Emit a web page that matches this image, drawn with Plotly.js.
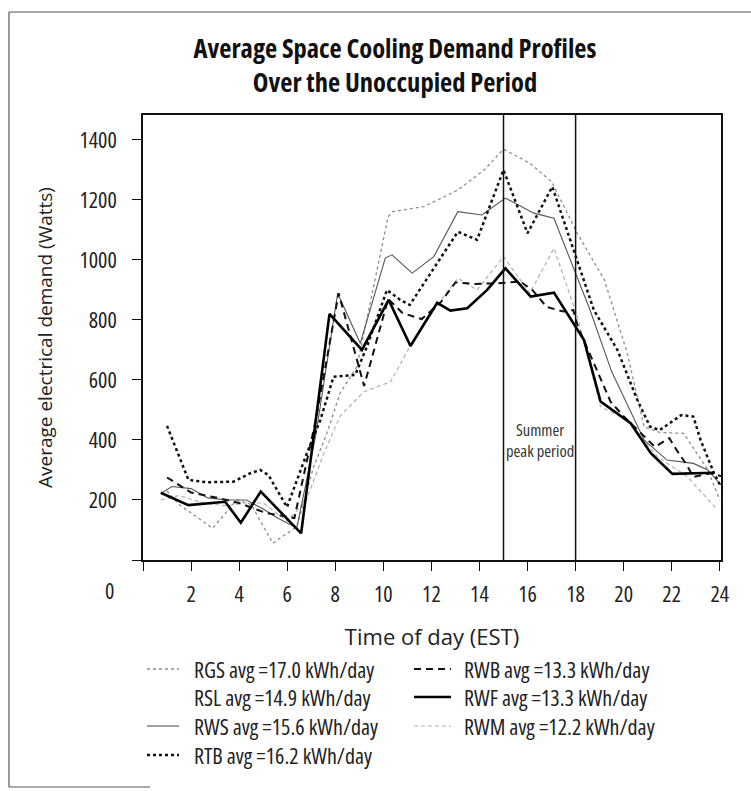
<!DOCTYPE html>
<html>
<head>
<meta charset="utf-8">
<script src="https://cdn.plot.ly/plotly-3.0.1.min.js"></script>
<style>
  html, body { margin: 0; padding: 0; background: #fff; }
  #chart { width: 751px; height: 791px; }
</style>
</head>
<body>
<div id="chart"></div>
<script>
// ---------- data ----------
const xTickVals = [0, 2, 4, 6, 8, 10, 12, 14, 16, 18, 20, 22, 24];
const xTickText = ['', '2', '4', '6', '8', '10', '12', '14', '16', '18', '20', '22', '24'];
const yTickVals = [0, 200, 400, 600, 800, 1000, 1200, 1400];
const yTickText = ['', '200', '400', '600', '800', '1000', '1200', '1400'];
const peakPeriod = [15, 18];

const rgsHours = [1.0, 1.5, 2.9, 3.9, 4.5, 5.4, 6.4, 7.1, 7.65, 8.2, 8.9, 10.2, 10.4, 11.7, 13.1, 14.2, 15.0, 16.1, 17.0, 18.07, 19.2, 20.15, 20.85, 21.5, 22.5, 23.5, 24.0];
const rgsWatts = [230, 185, 106, 200, 185, 56, 111, 311, 422, 556, 644, 1144, 1161, 1178, 1233, 1300, 1369, 1322, 1261, 1089, 933, 689, 444, 425, 422, 300, 200];

const rslHours = [];
const rslWatts = [];

const rwsHours = [0.75, 1.2, 2.0, 2.7, 3.5, 4.3, 5.0, 5.6, 6.4, 7.2, 8.1, 9.04, 10.08, 10.36, 11.2, 12.1, 13.1, 14.1, 15.08, 16.26, 17.1, 17.9, 18.6, 19.5, 20.85, 21.8, 22.9, 23.5, 24.05];
const rwsWatts = [222, 245, 238, 207, 200, 200, 170, 140, 107, 420, 889, 722, 1006, 1017, 956, 1011, 1161, 1150, 1206, 1156, 1139, 978, 833, 628, 400, 333, 322, 300, 250];

const rtbHours = [1.0, 1.89, 2.65, 3.76, 4.46, 4.875, 5.22, 5.99, 6.82, 7.38, 7.93, 8.83, 9.32, 10.15, 10.7, 11.1, 13.1, 13.9, 15.0, 16.0, 17.03, 18.0, 18.76, 19.74, 20.57, 21.1, 21.5, 22.4, 22.9, 23.2, 23.76, 24.05];
const rtbWatts = [447, 267, 259, 261, 289, 300, 283, 176, 356, 467, 611, 617, 711, 900, 867, 850, 1094, 1067, 1300, 1089, 1244, 1011, 833, 700, 533, 444, 433, 483, 478, 400, 289, 244];

const rwbHours = [1.0, 2.0, 3.1, 4.0, 5.1, 6.3, 7.2, 8.14, 9.2, 10.2, 10.8, 11.6, 12.4, 13.0, 13.75, 14.75, 15.7, 16.2, 16.8, 17.5, 17.9, 18.1, 19.46, 19.95, 21.3, 21.9, 22.2, 22.6, 22.9, 23.6, 24.05];
const rwbWatts = [275, 225, 207, 190, 157, 140, 470, 889, 580, 870, 823, 803, 860, 925, 920, 922, 928, 900, 843, 828, 833, 777, 527, 483, 377, 406, 367, 320, 277, 289, 280];

const rwfHours = [0.74, 1.89, 3.42, 4.07, 4.9, 6.58, 7.76, 9.11, 10.22, 11.13, 12.24, 12.79, 13.49, 14.32, 15.08, 16.13, 17.1, 18.0, 18.35, 19.04, 20.29, 21.13, 22.03, 23.76];
const rwfWatts = [224, 183, 194, 124, 228, 89, 820, 700, 867, 713, 857, 831, 839, 900, 972, 878, 891, 778, 733, 528, 456, 356, 287, 291];

const rwmHours = [0.75, 1.5, 2.5, 3.5, 4.2, 5.0, 6.0, 6.8, 7.5, 8.2, 9.2, 10.3, 11.1, 12.4, 13.1, 13.9, 15.0, 16.1, 17.1, 18.07, 19.04, 20.15, 21.4, 22.65, 23.9];
const rwmWatts = [200, 215, 190, 180, 190, 190, 130, 200, 350, 480, 561, 594, 711, 867, 939, 900, 1011, 889, 1039, 811, 511, 467, 344, 278, 167];

const seriesNames = ['RGS', 'RSL', 'RWS', 'RTB', 'RWB', 'RWF', 'RWM'];
const seriesAvg = ['17.0', '14.9', '15.6', '16.2', '13.3', '13.3', '12.2'];

// ---------- font selection ----------
const ctx = document.createElement('canvas').getContext('2d');
const canStretch = ('fontStretch' in ctx);
function widthOf(font, text, stretch) {
  ctx.font = font;
  if (canStretch) ctx.fontStretch = stretch || 'normal';
  return ctx.measureText(text).width;
}
const probe = 'Average electrical demand 1400';
function available(name) {
  for (const base of ['monospace', 'serif']) {
    if (Math.abs(widthOf('100px ' + base, probe) - widthOf('100px "' + name + '", ' + base, probe)) > 0.5) return true;
  }
  return false;
}
// prefer a family with a width axis (so each text can get its own width); else a fixed condensed family
let FAMILY = null, STRETCHES = ['normal'];
for (const n of ['Noto Sans', 'Roboto', 'Open Sans']) {
  if (!available(n)) continue;
  const w0 = widthOf('100px "' + n + '"', probe, 'normal');
  const w1 = widthOf('100px "' + n + '"', probe, 'extra-condensed');
  if (w1 < 0.85 * w0) { FAMILY = '"' + n + '", sans-serif'; STRETCHES = ['extra-condensed', 'condensed', 'semi-condensed', 'normal']; break; }
}
if (!FAMILY) {
  let fam = 'DejaVu Sans Condensed';
  for (const n of ['Noto Sans Condensed', 'Roboto Condensed', 'Liberation Sans Narrow', 'DejaVu Sans Condensed']) {
    if (available(n)) { fam = n; break; }
  }
  FAMILY = '"' + fam + '", "DejaVu Sans Condensed", sans-serif';
}
// choose width + size so a text matches the reference width at roughly the reference size
function fitText(text, targetW, wantSize, bold) {
  let best = null;
  STRETCHES.forEach(st => {
    const w = widthOf((bold ? 'bold ' : '') + '100px ' + FAMILY, text, st);
    const size = 100 * targetW / w;
    if (!best || Math.abs(size - wantSize) < Math.abs(best.size - wantSize)) best = {stretch: st, size: size};
  });
  best.size = Math.round(Math.min(best.size, wantSize + 1) * 2) / 2;
  return best;
}
const fTitle = fitText('Average Space Cooling Demand Profiles', 400, 29, true);
const fTick = fitText('1400', 38, 21, false);
const fLegend = fitText('RGS avg =17.0 kWh/day', 188, 21, false);
const fY = fitText('Average electrical demand (Watts)', 298, 20, false);
const fX = fitText('Time of day (EST)', 192, 21, false);
const szSummer = Math.min(17, Math.round(100 * 69 / widthOf('100px ' + FAMILY, 'peak period', fLegend.stretch) * 2) / 2);

if (STRETCHES.length > 1) {
  const css = document.createElement('style');
  css.textContent =
    'svg text { font-stretch: ' + fTick.stretch + '; }\n' +
    'svg text.gtitle { font-stretch: ' + fTitle.stretch + '; }\n' +
    'svg text.annotation-text { font-stretch: ' + fLegend.stretch + '; }\n' +
    'svg text.xtitle { font-stretch: ' + fX.stretch + '; }\n' +
    'svg text.ytitle { font-stretch: ' + fY.stretch + '; }\n';
  document.head.appendChild(css);
}

// ---------- styling ----------
const styles = {
  RGS: {color: '#8c8c8c', width: 1.3, dash: 'dot'},
  RSL: {color: 'rgba(0,0,0,0)', width: 1, dash: 'solid'},
  RWS: {color: '#555555', width: 1.1, dash: 'solid'},
  RTB: {color: '#111111', width: 2.5, dash: 'dot'},
  RWB: {color: '#111111', width: 2, dash: '7px,5px'},
  RWF: {color: '#000000', width: 2.6, dash: 'solid'},
  RWM: {color: '#b0b0b0', width: 1.2, dash: '4px,3px'}
};
const dataMap = {
  RGS: [rgsHours, rgsWatts], RSL: [rslHours, rslWatts], RWS: [rwsHours, rwsWatts],
  RTB: [rtbHours, rtbWatts], RWB: [rwbHours, rwbWatts], RWF: [rwfHours, rwfWatts],
  RWM: [rwmHours, rwmWatts]
};
const drawOrder = ['RGS', 'RSL', 'RWM', 'RWS', 'RTB', 'RWB', 'RWF'];

const traces = drawOrder.map(n => ({
  type: 'scatter', mode: 'lines', name: n,
  x: dataMap[n][0], y: dataMap[n][1],
  line: Object.assign({}, styles[n]),
  showlegend: false, hoverinfo: 'x+y+name'
}));

const W = 751, H = 791, ML = 143, MR = 30, MT = 115, MB = 231;
const PW = W - ML - MR, PH = H - MT - MB;
const px = x => (x - ML) / PW;
const py = y => (H - MB - y) / PH;

const shapes = [];
const annotations = [];

peakPeriod.forEach(h => shapes.push({
  type: 'line', xref: 'x', yref: 'paper', x0: h, x1: h, y0: 0, y1: 1,
  line: {color: '#111', width: 1.5}
}));

const fl = {color: '#555', width: 1.2};
shapes.push({type: 'line', xref: 'paper', yref: 'paper', x0: px(9), x1: px(9), y0: py(787), y1: py(12), line: fl});
shapes.push({type: 'line', xref: 'paper', yref: 'paper', x0: px(9), x1: px(751), y0: py(12), y1: py(12), line: fl});
shapes.push({type: 'line', xref: 'paper', yref: 'paper', x0: px(9), x1: px(150), y0: py(787), y1: py(787), line: fl});

const legendSlots = {
  RGS: [147, 179, 192, 669], RSL: [147, 179, 192, 697], RWS: [147, 179, 192, 726], RTB: [147, 179, 192, 755],
  RWB: [414, 451, 462, 669], RWF: [414, 451, 462, 697], RWM: [414, 451, 462, 726]
};
seriesNames.forEach((n, i) => {
  const s = legendSlots[n];
  shapes.push({type: 'line', xref: 'paper', yref: 'paper', x0: px(s[0]), x1: px(s[1]), y0: py(s[3]), y1: py(s[3]),
    line: Object.assign({}, styles[n])});
  annotations.push({xref: 'paper', yref: 'paper', x: px(s[2]), y: py(s[3]), xanchor: 'left', yanchor: 'middle',
    text: n + ' avg =' + seriesAvg[i] + ' kWh/day', showarrow: false,
    font: {family: FAMILY, size: fLegend.size, color: '#222'}});
});

annotations.push({xref: 'x', yref: 'y', x: (peakPeriod[0] + peakPeriod[1]) / 2, y: 400,
  text: 'Summer<br>peak period', showarrow: false, xanchor: 'center', yanchor: 'middle',
  font: {family: FAMILY, size: szSummer, color: '#333'}});

annotations.push({xref: 'paper', yref: 'paper', x: px(109), y: py(590), text: '0', showarrow: false,
  xanchor: 'center', yanchor: 'middle', font: {family: FAMILY, size: fTick.size, color: '#222'}});

const layout = {
  width: W, height: H,
  margin: {l: ML, r: MR, t: MT, b: MB},
  paper_bgcolor: '#fff', plot_bgcolor: '#fff',
  showlegend: false,
  title: {
    text: '<b>Average Space Cooling Demand Profiles<br>Over the Unoccupied Period</b>',
    font: {family: FAMILY, size: fTitle.size, color: '#111'},
    x: 395 / W, xref: 'container', xanchor: 'center',
    y: 1 - 58 / H, yref: 'container', yanchor: 'middle'
  },
  xaxis: {
    range: [0, 24.05], showgrid: false, zeroline: false,
    showline: true, linecolor: '#111', linewidth: 1.5, mirror: true,
    ticks: 'outside', ticklen: 9, tickwidth: 1.3, tickcolor: '#111',
    tickvals: xTickVals, ticktext: xTickText, ticklabelstandoff: 5,
    tickfont: {family: FAMILY, size: fTick.size, color: '#222'},
    title: {text: 'Time of day (EST)', standoff: 22, font: {family: FAMILY, size: fX.size, color: '#222'}}
  },
  yaxis: {
    range: [0, 1483], showgrid: false, zeroline: false,
    showline: true, linecolor: '#111', linewidth: 1.5, mirror: true,
    ticks: 'outside', ticklen: 9, tickwidth: 1.3, tickcolor: '#111',
    tickvals: yTickVals, ticktext: yTickText, ticklabelstandoff: 11,
    tickfont: {family: FAMILY, size: fTick.size, color: '#222'},
    title: {text: 'Average electrical demand (Watts)', standoff: 22, font: {family: FAMILY, size: fY.size, color: '#222'}}
  },
  shapes: shapes,
  annotations: annotations
};

Plotly.newPlot('chart', traces, layout, {displayModeBar: false, responsive: false});
</script>
</body>
</html>
